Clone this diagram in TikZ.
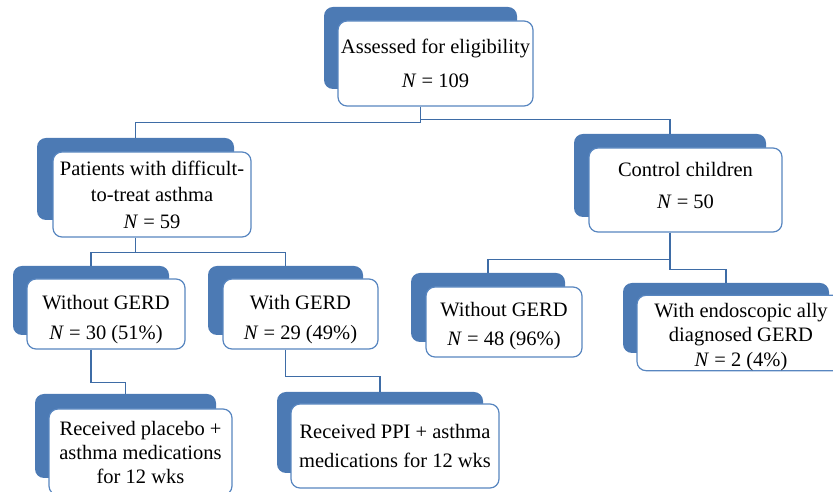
\documentclass[tikz,border=0pt]{standalone}
\usepackage{fontspec}
\setmainfont{Liberation Serif}
\usetikzlibrary{calc}
\definecolor{bfill}{RGB}{76,122,180}
\definecolor{bline}{RGB}{88,134,192}
\definecolor{cline}{RGB}{62,108,166}
\tikzset{
  backbox/.style={fill=bfill, draw=none, rounded corners=9pt, inner sep=0pt},
  frontbox/.style={fill=white, draw=bline, line width=1.2pt, rounded corners=9pt, inner sep=0pt, align=center, font=\fontsize{20.5pt}{26pt}\selectfont},
  conn/.style={draw=cline, line width=1.2pt}
}
\newcommand{\NN}{\textit{N}}
\begin{document}
\begin{tikzpicture}[x=1pt,y=1pt]
\useasboundingbox (0,0) rectangle (833,492);
% blue backs
\node[backbox, minimum width=193pt, minimum height=82pt] (Ab) at (420.5,444) {};
\node[backbox, minimum width=197pt, minimum height=82pt] (Pb) at (135.5,313) {};
\node[backbox, minimum width=192pt, minimum height=83pt] (Cb) at (670,316.5) {};
\node[backbox, minimum width=156pt, minimum height=69pt] (W1b) at (91,191.5) {};
\node[backbox, minimum width=155pt, minimum height=69pt] (G1b) at (285.5,191.5) {};
\node[backbox, minimum width=154pt, minimum height=69pt] (W2b) at (488,184.5) {};
\node[backbox, minimum width=206pt, minimum height=70pt] (G2b) at (726,174) {};
\node[backbox, minimum width=181pt, minimum height=84pt] (R1b) at (125.5,56) {};
\node[backbox, minimum width=206pt, minimum height=81pt] (R2b) at (380,59.5) {};
% white fronts
\node[frontbox, minimum width=195pt, minimum height=85pt, font=\fontsize{20.5pt}{34pt}\selectfont] (A) at (435.5,428.5) {Assessed for eligibility\\ \NN{} = 109};
\node[frontbox, minimum width=198pt, minimum height=85pt, font=\fontsize{20.5pt}{26.5pt}\selectfont] (P) at (152,297.5) {Patients with difficult-\\to-treat asthma\\ \NN{} = 59};
\node[frontbox, minimum width=193pt, minimum height=84pt, font=\fontsize{20.5pt}{32pt}\selectfont] (C) at (685.5,302) {Control children\\ \NN{} = 50\rule[-10pt]{0pt}{1pt}};
\node[frontbox, minimum width=158pt, minimum height=70pt, font=\fontsize{20.5pt}{30pt}\selectfont] (W1) at (106,178) {\rule{0pt}{26pt}Without GERD\\ \NN{} = 30 (51\%)};
\node[frontbox, minimum width=155pt, minimum height=70pt, font=\fontsize{20.5pt}{30pt}\selectfont] (G1) at (300.5,178) {\rule{0pt}{26pt}With GERD\\ \NN{} = 29 (49\%)};
\node[frontbox, minimum width=156pt, minimum height=70pt, font=\fontsize{20.5pt}{29pt}\selectfont] (W2) at (504,170) {\rule{0pt}{22pt}Without GERD\\ \NN{} = 48 (96\%)};
\node[frontbox, minimum width=208pt, minimum height=72pt, font=\fontsize{20.5pt}{24.5pt}\selectfont] (G2) at (741,159) {\rule{0pt}{22pt}With endoscopic ally\\diagnosed GERD\\ \NN{} = 2 (4\%)};
\node[frontbox, minimum width=183pt, minimum height=86pt, font=\fontsize{20.5pt}{24pt}\selectfont] (R1) at (140.5,40) {Received placebo +\\asthma medications\\for 12 wks};
\node[frontbox, minimum width=208pt, minimum height=84pt, font=\fontsize{20.5pt}{29pt}\selectfont] (R2) at (395,46) {Received PPI + asthma\\medications for 12 wks};
% connectors
\draw[conn] (Ab |- A.south) |- ($(Pb.north)+(0,15)$) -- (Pb.north);
\draw[conn] (Ab |- A.south) |- ($(Cb.north)+(0,14)$) -- (Cb.north);
\draw[conn] (Pb |- P.south) |- ($(W1b.north)+(0,13)$) -- (W1b.north);
\draw[conn] (Pb |- P.south) |- ($(G1b.north)+(0,13)$) -- (G1b.north);
\draw[conn] (Cb |- C.south) |- ($(W2b.north)+(0,13)$) -- (W2b.north);
\draw[conn] (Cb |- C.south) |- ($(G2b.north)+(0,13)$) -- (G2b.north);
\draw[conn] (W1b |- W1.south) |- ($(R1b.north)+(0,11)$) -- (R1b.north);
\draw[conn] (G1b |- G1.south) |- ($(R2b.north)+(0,15)$) -- (R2b.north);
\end{tikzpicture}
\end{document}
